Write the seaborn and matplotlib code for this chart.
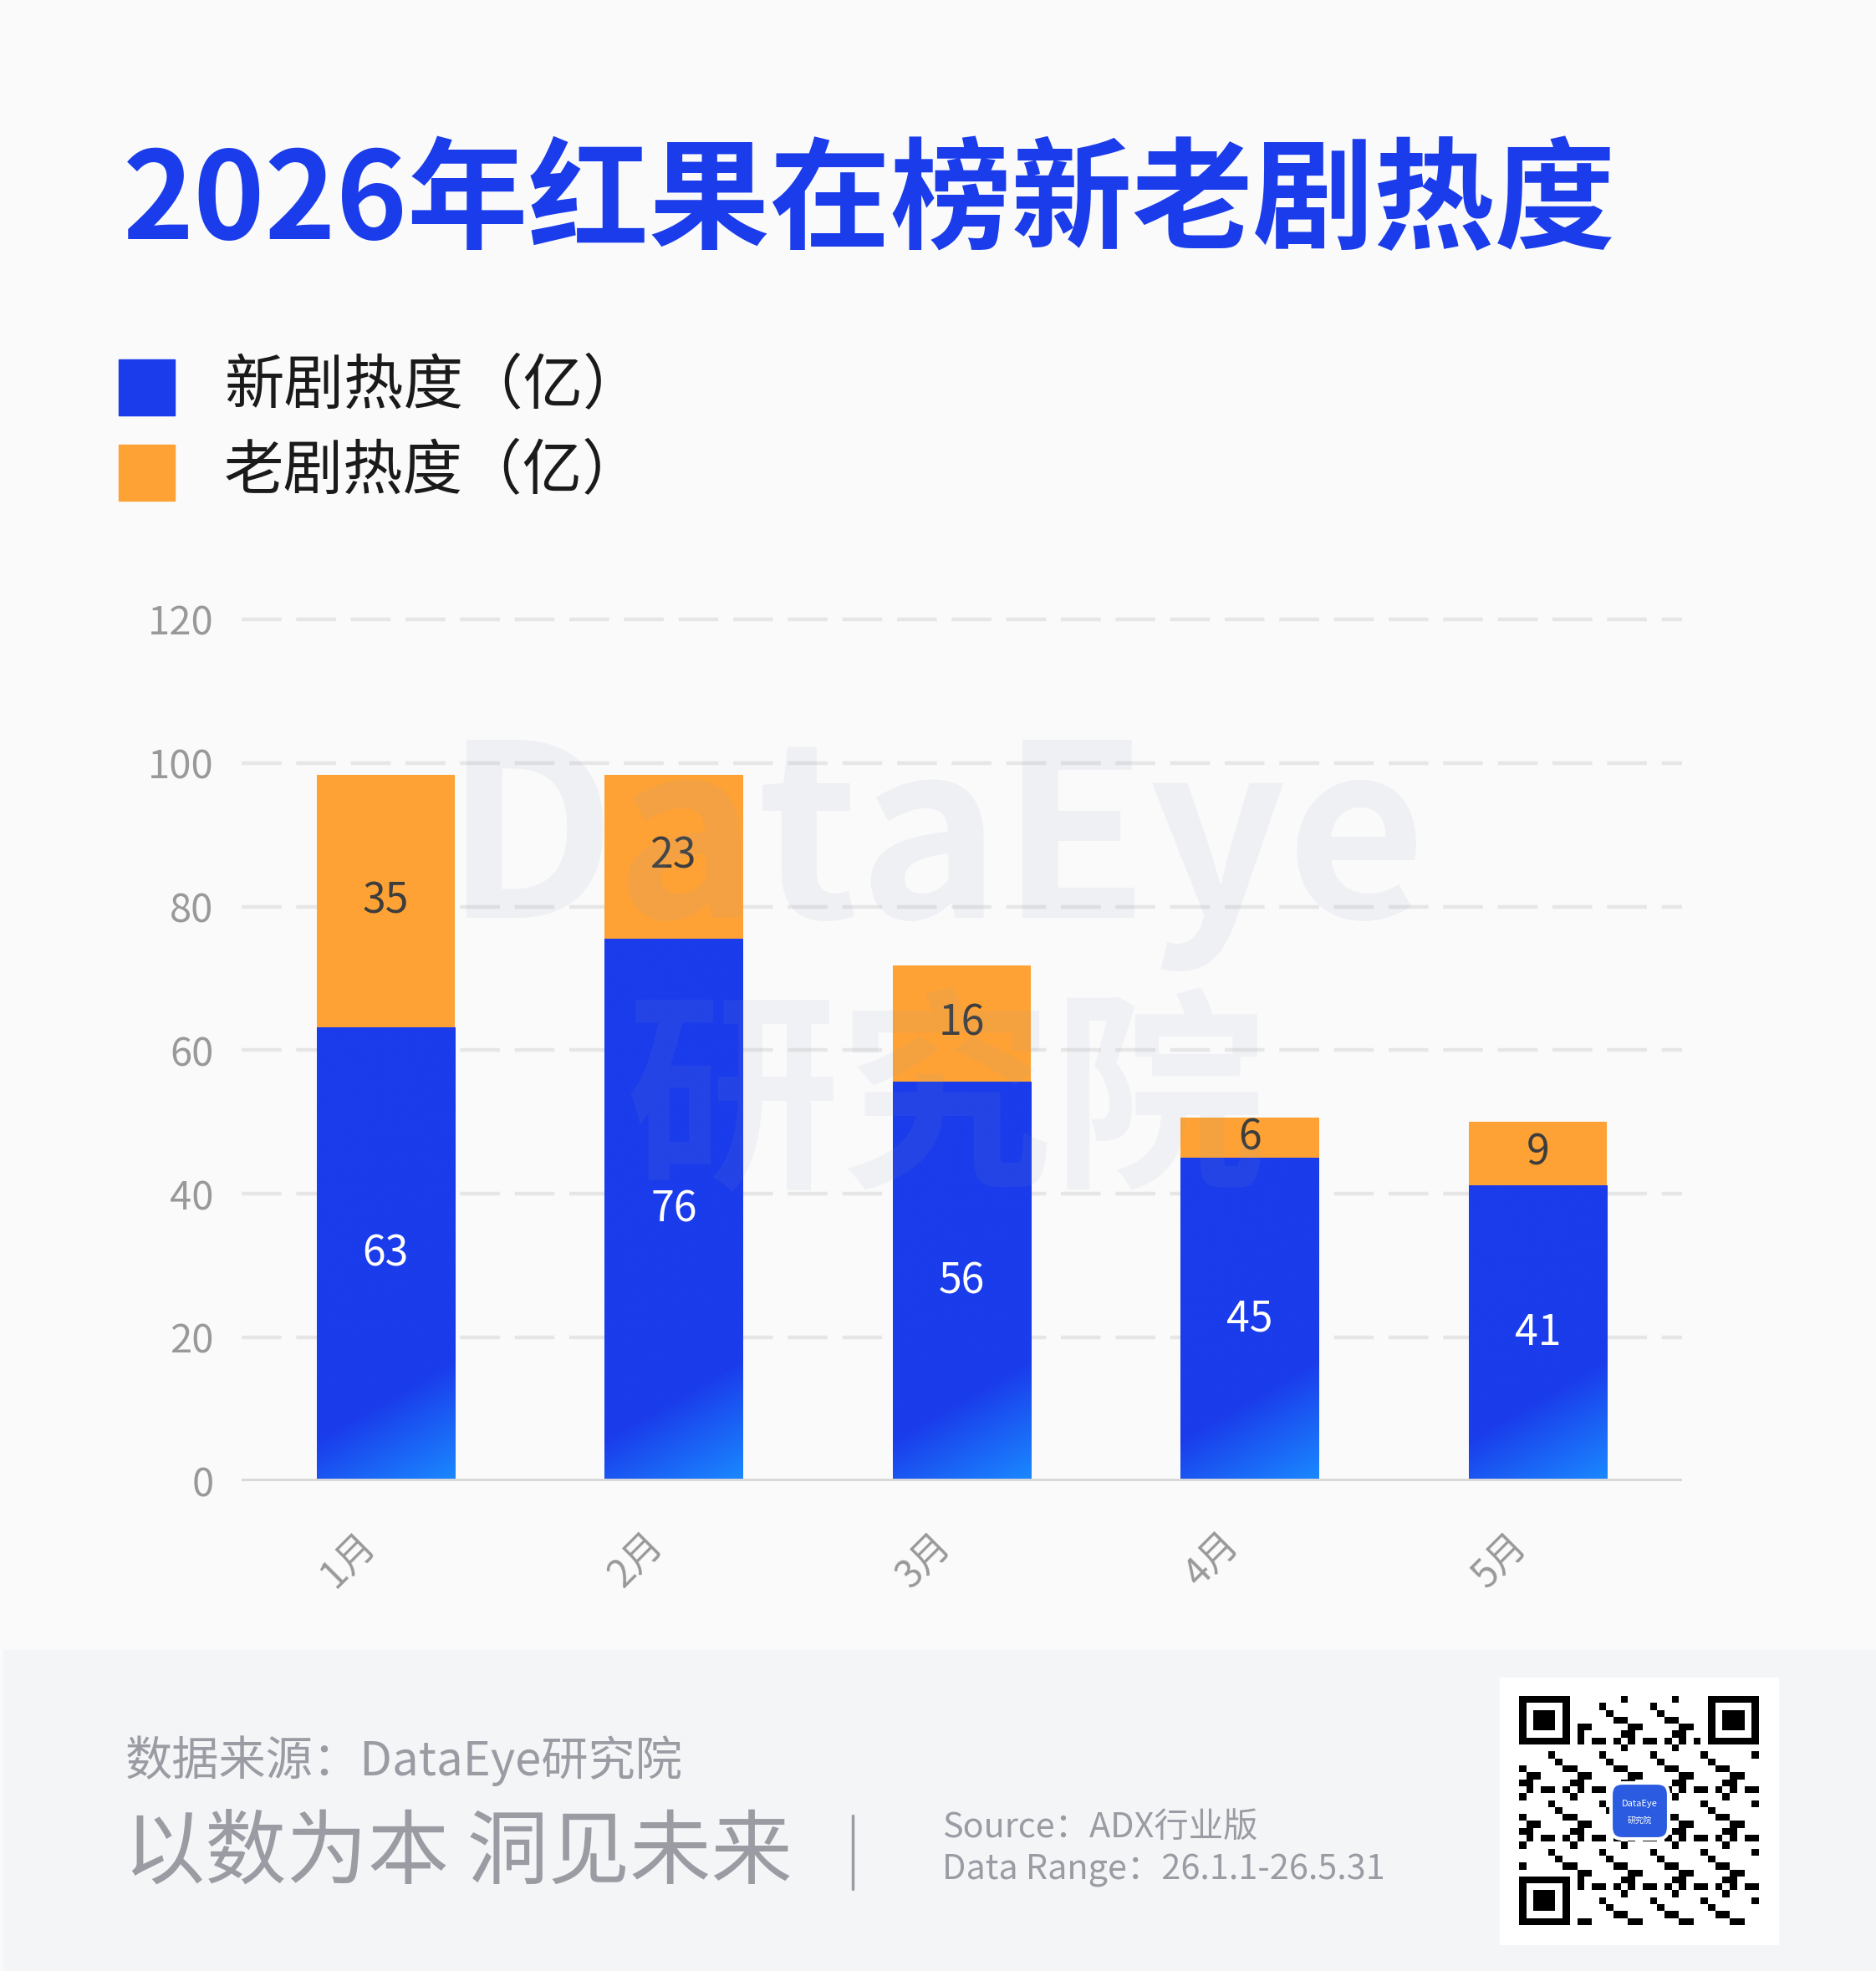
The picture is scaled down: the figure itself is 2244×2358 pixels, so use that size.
import numpy as np
import matplotlib
matplotlib.use("Agg")
import matplotlib.pyplot as plt
import seaborn as sns
from matplotlib.patches import Rectangle, FancyBboxPatch
from matplotlib.lines import Line2D
from matplotlib.transforms import ScaledTranslation
from matplotlib.colors import to_rgb

# data
months = ["1月", "2月", "3月", "4月", "5月"]
new_heat = [63.2, 75.5, 55.6, 45.0, 41.2]
old_heat = [35.1, 22.9, 16.2, 5.6, 8.9]
series_names = ["新剧热度（亿）", "老剧热度（亿）"]
yticks = [0, 20, 40, 60, 80, 100, 120]

BLUE = "#1a3ceb"
LIGHT_BLUE = "#1a8aff"
ORANGE = "#ffa235"
GRAY = "#999999"
FOOT = "#9b9ca3"

W, H = 2244, 2358


def fx(x):
    return x / W


def fy(y):
    return 1 - y / H


sns.set_theme(style="white")
plt.rcParams["font.family"] = ["Noto Sans CJK SC", "DejaVu Sans"]

fig = plt.figure(figsize=(W / 100, H / 100), dpi=100, facecolor="#fafafa")

# footer band
fig.add_artist(Rectangle((fx(4), 0), 1, (H - 1974) / H, transform=fig.transFigure,
                         color="#f4f5f7", zorder=0))

ax = fig.add_axes([fx(289), fy(1772), 1723 / W, 1039.6 / H])
ax.set_facecolor("none")

total = [a + b for a, b in zip(new_heat, old_heat)]
sns.barplot(x=months, y=total, color=ORANGE, saturation=1, width=0.48,
            linewidth=0, ax=ax, zorder=2)
sns.barplot(x=months, y=new_heat, color=BLUE, saturation=1, width=0.48,
            linewidth=0, ax=ax, zorder=2)

# diagonal light-blue gradient at the bottom right of each blue bar
px_x = 1723 / 5
px_y = 1031 / 120
c0 = np.array(to_rgb(BLUE))
c1 = np.array(to_rgb(LIGHT_BLUE))
for bar in ax.containers[1]:
    x0, w, h = bar.get_x(), bar.get_width(), bar.get_height()
    nx, ny = int(w * px_x), int(h * px_y)
    xx, yy = np.meshgrid(np.arange(nx), np.arange(ny)[::-1])
    t = np.clip((xx * 0.58 - yy + 49) / 145, 0, 1)
    img = c0 + (c1 - c0) * t[..., None]
    im = ax.imshow(img, extent=(x0, x0 + w, 0, h), aspect="auto",
                   zorder=2.5, interpolation="bilinear")
    im.set_clip_path(bar)

for i in range(len(months)):
    ax.text(i, new_heat[i] / 2, f"{round(new_heat[i])}", ha="center", va="center",
            color="white", fontsize=36, zorder=4)
    ax.text(i, new_heat[i] + old_heat[i] / 2, f"{round(old_heat[i])}", ha="center",
            va="center", color="#3d3d3d", fontsize=36, zorder=4)

ax.set_xlim(-0.5, 4.5)
ax.set_ylim(0, 121)
ax.set_yticks(yticks)
ax.set_axisbelow(True)
ax.yaxis.grid(True, color="#e6e6e6", linewidth=3.2, linestyle=(0, (10.7, 4)))
ax.xaxis.grid(False)
ax.axhline(0, color="#d9d9d9", linewidth=4.3, zorder=3)
for s in ax.spines.values():
    s.set_visible(False)
ax.set_xlabel("")
ax.set_ylabel("")
ax.tick_params(axis="y", length=0, pad=24, labelsize=34, labelcolor=GRAY)
ax.tick_params(axis="x", length=0, pad=50, labelsize=33, labelcolor=GRAY)
for lab in ax.get_xticklabels():
    lab.set_rotation(45)
    lab.set_ha("right")
    lab.set_va("center")
    lab.set_rotation_mode("anchor")
    lab.set_transform(lab.get_transform() + ScaledTranslation(-0.2, 0, fig.dpi_scale_trans))

# title
fig.text(fx(147), fy(286), "2026年红果在榜新老剧热度", fontsize=104, weight="bold",
         color=BLUE, va="baseline")

# legend
for k, (name, color) in enumerate(zip(series_names, [BLUE, ORANGE])):
    top = 430 + k * 102
    fig.add_artist(Rectangle((fx(142), fy(top + 67)), 67 / W, 67 / H,
                             transform=fig.transFigure, color=color))
    fig.text(fx(268), fy(top + 33), name, fontsize=51.5, va="center", color="#1a1a1a")

# watermark
fig.text(fx(532), fy(1098), "DataEye", fontsize=207, weight="bold", va="baseline",
         color=(0.55, 0.6, 0.72), alpha=0.1, zorder=5)
fig.text(fx(748), fy(1455), "研究院", fontsize=184, weight="bold", va="bottom",
         color=(0.55, 0.6, 0.72), alpha=0.09, zorder=5)

# footer
fig.text(fx(150), fy(2107), "数据来源：DataEye研究院", fontsize=40.5, color=FOOT, va="center")
fig.text(fx(148), fy(2218), "以数为本 洞见未来", fontsize=70, color=FOOT, va="center")
fig.add_artist(Line2D([fx(1020)] * 2, [fy(2172), fy(2260)], transform=fig.transFigure,
                      color=FOOT, linewidth=2.5))
fig.text(fx(1127), fy(2187), "Source：ADX行业版", fontsize=29.8, color=FOOT, va="center")
fig.text(fx(1127), fy(2237), "Data Range：26.1.1-26.5.31", fontsize=29.8, color=FOOT, va="center")

# QR code block (decorative)
fig.add_artist(Rectangle((fx(1794), fy(2326)), (2127 - 1794) / W, (2326 - 2007) / H,
                         transform=fig.transFigure, color="white", zorder=1))
n = 33
ii, jj = np.meshgrid(np.arange(n), np.arange(n), indexing="ij")
qr = ((ii * ii * jj + 3 * ii + 5 * jj * jj + ii * jj) % 7) < 3
for r0, c0_ in [(0, 0), (0, n - 7), (n - 7, 0)]:
    qr[max(r0 - 1, 0):r0 + 8, max(c0_ - 1, 0):c0_ + 8] = False
    qr[r0:r0 + 7, c0_:c0_ + 7] = True
    qr[r0 + 1:r0 + 6, c0_ + 1:c0_ + 6] = False
    qr[r0 + 2:r0 + 5, c0_ + 2:c0_ + 5] = True
qax = fig.add_axes([fx(1817), fy(2303), (2104 - 1817) / W, (2303 - 2029) / H], zorder=2)
qax.imshow(qr, cmap="gray_r", aspect="auto", interpolation="nearest")
qax.axis("off")
logo = FancyBboxPatch((fx(1927), fy(2200)), (1996 - 1927) / W, (2200 - 2133) / H,
                      boxstyle="round,pad=0,rounding_size=0.006", transform=fig.transFigure,
                      facecolor="#2a5be0", edgecolor="white", linewidth=3, zorder=6)
fig.add_artist(logo)
fig.text(fx(1961), fy(2158), "DataEye", fontsize=8, color="white", ha="center", va="center", zorder=7)
fig.text(fx(1961), fy(2178), "研究院", fontsize=7, color="white", ha="center", va="center", zorder=7)

fig.savefig("out.png", dpi=100, facecolor=fig.get_facecolor())
